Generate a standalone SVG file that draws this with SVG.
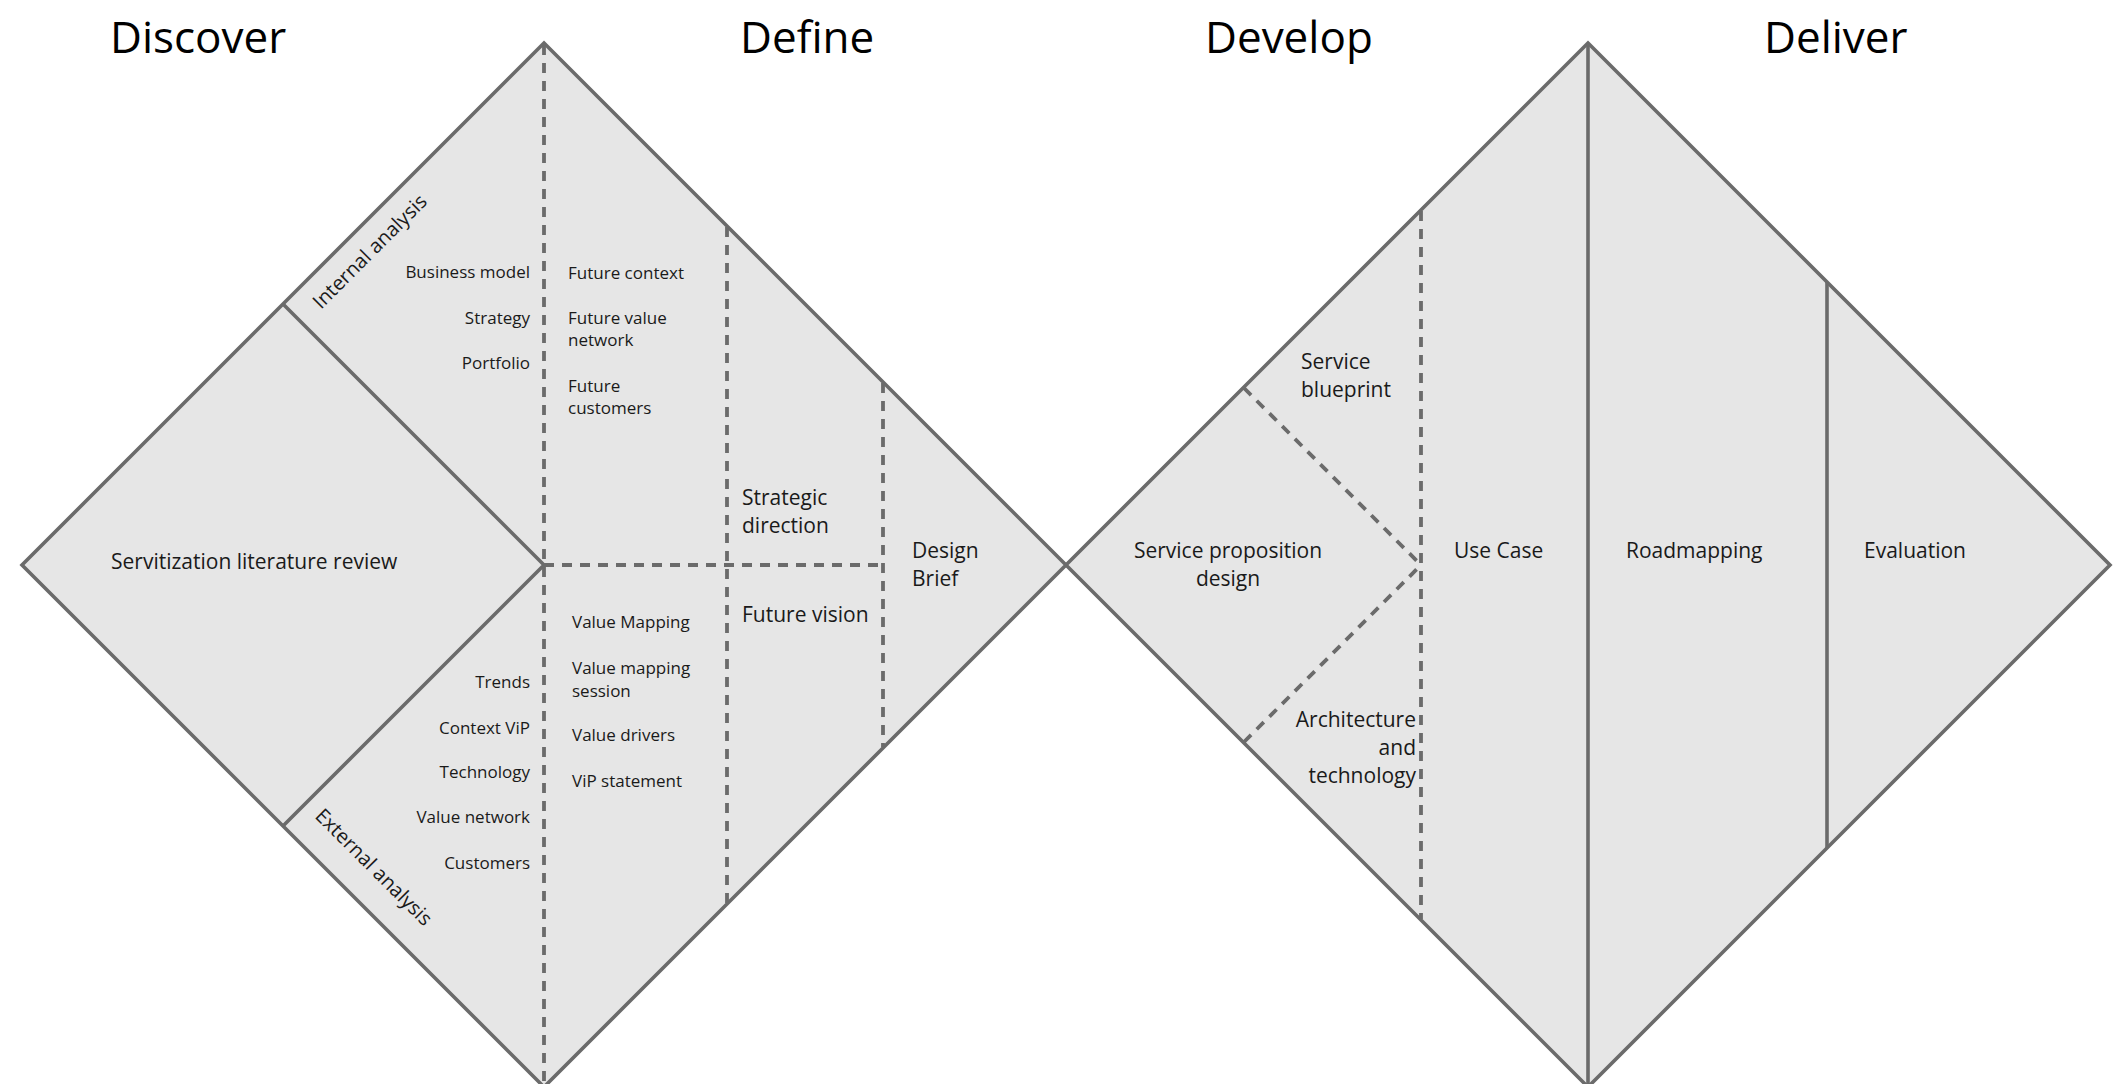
<svg xmlns="http://www.w3.org/2000/svg" width="2116" height="1084" viewBox="0 0 2116 1084">
  <style>
    .shape { fill: #e6e6e6; stroke: #6b6b6b; stroke-width: 3.6; stroke-linejoin: miter; }
    .solid { fill: none; stroke: #6b6b6b; stroke-width: 3.6; }
    .dash { fill: none; stroke: #6b6b6b; stroke-width: 3.8; stroke-dasharray: 10 8; }
    text { font-family: "Open Sans", "Noto Sans", "Liberation Sans", sans-serif; fill: #1a1a1a; }
    .title { font-size: 44px; fill: #000; }
    .lbl { font-size: 21px; }
    .sm { font-size: 17px; }
    .rot { font-size: 20px; }
    .end { text-anchor: end; }
    .mid { text-anchor: middle; }
  </style>

  <rect width="2116" height="1084" fill="#ffffff"/>

  <!-- phase titles -->
  <g id="titles">
    <text class="title" x="110" y="53">Discover</text>
    <text class="title" x="740" y="53">Define</text>
    <text class="title" x="1205" y="53">Develop</text>
    <text class="title" x="1764" y="53">Deliver</text>
  </g>

  <!-- first diamond: Discover / Define -->
  <g id="diamond-discover-define">
    <polygon class="shape" points="544,43 1066,565 544,1087 22,565"/>
  </g>

  <!-- second diamond: Develop / Deliver -->
  <g id="diamond-develop-deliver">
    <polygon class="shape" points="1588,43 2110,565 1588,1087 1066,565"/>
  </g>

  <!-- region dividers -->
  <g id="connectors">
    <!-- Discover: literature review wedge -->
    <polyline class="solid" points="283,304 544,565 283,826"/>
    <!-- Discover | Define axis -->
    <line class="dash" x1="544" y1="45" x2="544" y2="1085"/>
    <!-- Define sub-areas -->
    <line class="dash" x1="544" y1="565" x2="883" y2="565"/>
    <line class="dash" x1="727" y1="227" x2="727" y2="903"/>
    <line class="dash" x1="883" y1="383" x2="883" y2="747"/>
    <!-- Develop sub-areas -->
    <line class="dash" x1="1421" y1="211" x2="1421" y2="919"/>
    <line class="dash" x1="1244" y1="388" x2="1421" y2="565"/>
    <line class="dash" x1="1244" y1="742" x2="1421" y2="565"/>
    <!-- Develop | Deliver axis and Deliver split -->
    <line class="solid" x1="1588" y1="44" x2="1588" y2="1086"/>
    <line class="solid" x1="1827" y1="282" x2="1827" y2="848"/>
  </g>

  <!-- Discover labels -->
  <g id="node-literature-review">
    <text class="lbl" x="111" y="569">Servitization literature review</text>
  </g>
  <g id="node-internal-analysis">
    <text class="rot" transform="translate(321,310) rotate(-45)">Internal analysis</text>
    <text class="sm end" x="530" y="278">Business model</text>
    <text class="sm end" x="530" y="324">Strategy</text>
    <text class="sm end" x="530" y="369">Portfolio</text>
  </g>
  <g id="node-external-analysis">
    <text class="rot" transform="translate(314,817) rotate(45)">External analysis</text>
    <text class="sm end" x="530" y="688">Trends</text>
    <text class="sm end" x="530" y="734">Context ViP</text>
    <text class="sm end" x="530" y="778">Technology</text>
    <text class="sm end" x="530" y="823">Value network</text>
    <text class="sm end" x="530" y="869">Customers</text>
  </g>

  <!-- Define labels -->
  <g id="node-future-context">
    <text class="sm" x="568" y="279">Future context</text>
    <text class="sm" x="568" y="324">Future value</text>
    <text class="sm" x="568" y="346">network</text>
    <text class="sm" x="568" y="392">Future</text>
    <text class="sm" x="568" y="414">customers</text>
  </g>
  <g id="node-value-mapping">
    <text class="sm" x="572" y="628">Value Mapping</text>
    <text class="sm" x="572" y="674">Value mapping</text>
    <text class="sm" x="572" y="697">session</text>
    <text class="sm" x="572" y="741">Value drivers</text>
    <text class="sm" x="572" y="787">ViP statement</text>
  </g>
  <g id="node-strategic-direction">
    <text class="lbl" x="742" y="505">Strategic</text>
    <text class="lbl" x="742" y="533">direction</text>
  </g>
  <g id="node-future-vision">
    <text class="lbl" x="742" y="622">Future vision</text>
  </g>
  <g id="node-design-brief">
    <text class="lbl" x="912" y="558">Design</text>
    <text class="lbl" x="912" y="586">Brief</text>
  </g>

  <!-- Develop labels -->
  <g id="node-service-blueprint">
    <text class="lbl" x="1301" y="369">Service</text>
    <text class="lbl" x="1301" y="397">blueprint</text>
  </g>
  <g id="node-service-proposition">
    <text class="lbl mid" x="1228" y="558">Service proposition</text>
    <text class="lbl mid" x="1228" y="586">design</text>
  </g>
  <g id="node-architecture">
    <text class="lbl end" x="1416" y="727">Architecture</text>
    <text class="lbl end" x="1416" y="755">and</text>
    <text class="lbl end" x="1416" y="783">technology</text>
  </g>
  <g id="node-use-case">
    <text class="lbl" x="1454" y="558">Use Case</text>
  </g>

  <!-- Deliver labels -->
  <g id="node-roadmapping">
    <text class="lbl" x="1626" y="558">Roadmapping</text>
  </g>
  <g id="node-evaluation">
    <text class="lbl" x="1864" y="558">Evaluation</text>
  </g>
</svg>
